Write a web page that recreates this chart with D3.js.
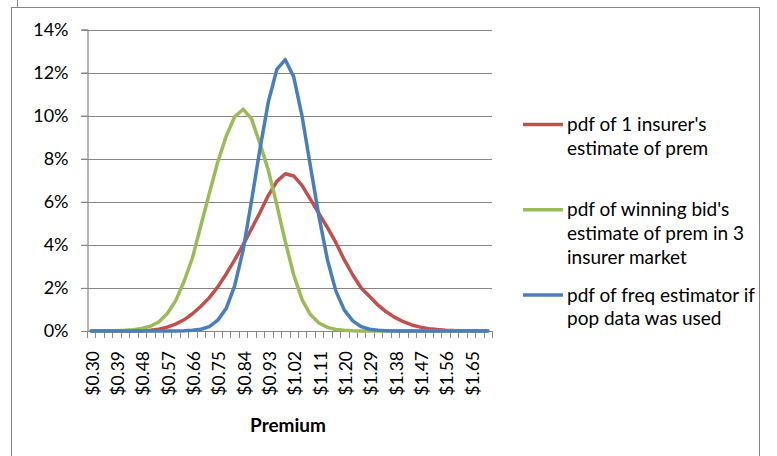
<!DOCTYPE html>
<html lang="en">
	<head>
		<meta charset="utf-8">
		<title>Premium pdf chart</title>
		<script src="https://d3js.org/d3.v7.min.js"></script>
		<style>
			body { margin: 0; background: #fff; }
			text { font-family: Lato, "Open Sans", sans-serif; fill: #000; }
		</style>
	</head>
	<body>
		<script>
		// categories (premium, $) -- every third one gets a label
		var premiums = [0.30, 0.33, 0.36, 0.39, 0.42, 0.45, 0.48, 0.51, 0.54, 0.57, 0.60, 0.63,
		                0.66, 0.69, 0.72, 0.75, 0.78, 0.81, 0.84, 0.87, 0.90, 0.93, 0.96, 0.99,
		                1.02, 1.05, 1.08, 1.11, 1.14, 1.17, 1.20, 1.23, 1.26, 1.29, 1.32, 1.35,
		                1.38, 1.41, 1.44, 1.47, 1.50, 1.53, 1.56, 1.59, 1.62, 1.65, 1.68, 1.71];

		// series values in percent
		var oneInsurer = [0, 0, 0, 0, 0, 0, 0.01, 0.03, 0.08, 0.18, 0.32, 0.52,
		                  0.8, 1.15, 1.55, 2.05, 2.65, 3.3, 4.0, 4.75, 5.5, 6.3, 6.95, 7.3,
		                  7.2, 6.75, 6.1, 5.45, 4.8, 4.1, 3.3, 2.6, 2.0, 1.6, 1.2, 0.88,
		                  0.63, 0.43, 0.28, 0.18, 0.11, 0.07, 0.04, 0.02, 0.01, 0, 0, 0];
		var winningBid = [0, 0, 0, 0.01, 0.03, 0.06, 0.12, 0.22, 0.42, 0.8, 1.4, 2.3,
		                  3.4, 4.9, 6.4, 7.85, 9.05, 9.95, 10.3, 9.85, 8.7, 7.45, 5.85, 4.15,
		                  2.6, 1.45, 0.75, 0.37, 0.17, 0.07, 0.03, 0.01, 0, 0, 0, 0,
		                  0, 0, 0, 0, 0, 0, 0, 0, 0, 0, 0, 0];
		var freqEstimator = [0, 0, 0, 0, 0, 0, 0, 0, 0, 0, 0, 0.01,
		                     0.03, 0.08, 0.2, 0.5, 1.05, 2.1, 3.75, 6.05, 8.45, 10.65, 12.15, 12.6,
		                     11.8, 9.95, 7.6, 5.3, 3.3, 1.85, 0.97, 0.47, 0.2, 0.08, 0.03, 0.01,
		                     0, 0, 0, 0, 0, 0, 0, 0, 0, 0, 0, 0];

		var yTicks = [0, 2, 4, 6, 8, 10, 12, 14];
		var legendLabels = [
			["pdf of 1 insurer's", "estimate of prem"],
			["pdf of winning bid's", "estimate of prem in 3", "insurer market"],
			["pdf of freq estimator if", "pop data was used"]
		];
		var seriesList = [oneInsurer, winningBid, freqEstimator];
		var colors = ["#C0504D", "#9BBB59", "#4A7EBB"];

		const width = 777;
		const height = 456;
		const gridColor = "#868686";

		var svg = d3.select("body").append("svg")
			.attr("width", width)
			.attr("height", height);

		// chart frame (runs off the bottom of the picture)
		svg.append("line").attr("x1", 17.5).attr("x2", 17.5).attr("y1", 0).attr("y2", 7.5)
			.attr("stroke", gridColor);
		svg.append("rect")
			.attr("x", 11.5).attr("y", 7.5)
			.attr("width", 748).attr("height", 470)
			.attr("fill", "#fff")
			.attr("stroke", gridColor);

		var xScale = d3.scaleBand().domain(d3.range(premiums.length)).range([87, 492]).padding(0);
		var yScale = d3.scaleLinear().domain([0, 14]).range([331, 29.5]);
		var half = xScale.bandwidth() / 2;

		// gridlines
		svg.append("g").selectAll("line")
			.data(yTicks.filter(function(d) { return d > 0; }))
			.enter().append("line")
			.attr("x1", 81).attr("x2", 492)
			.attr("y1", function(d) { return Math.round(yScale(d)) + 0.5; })
			.attr("y2", function(d) { return Math.round(yScale(d)) + 0.5; })
			.attr("stroke", gridColor)
			.attr("stroke-width", 1.2);

		// y axis
		var yAxis = d3.axisLeft(yScale).tickValues(yTicks).tickSize(6).tickPadding(13)
			.tickFormat(function(d) { return d + "%"; });
		var gy = svg.append("g").attr("transform", "translate(87.5,0)").call(yAxis);
		gy.select(".domain").attr("stroke", gridColor).attr("stroke-width", 1.2);
		gy.selectAll(".tick line").attr("stroke", gridColor).attr("stroke-width", 1.2);
		gy.selectAll(".tick text").style("font-size", "18px").attr("fill", "#000");

		// x axis: ticks sit between categories
		var bounds = d3.range(premiums.length + 1).map(function(i) { return 87 + i * xScale.bandwidth(); });
		svg.append("line").attr("x1", 87).attr("x2", 492).attr("y1", 331.5).attr("y2", 331.5)
			.attr("stroke", gridColor).attr("stroke-width", 1.2);
		svg.append("g").selectAll("line")
			.data(bounds)
			.enter().append("line")
			.attr("x1", function(d) { return Math.round(d) + 0.5; })
			.attr("x2", function(d) { return Math.round(d) + 0.5; })
			.attr("y1", 331).attr("y2", 338)
			.attr("stroke", gridColor).attr("stroke-width", 1);

		svg.append("g").selectAll("text")
			.data(premiums.map(function(p, i) { return i; }).filter(function(i) { return i % 3 === 0; }))
			.enter().append("text")
			.attr("transform", function(i) { return "translate(" + (xScale(i) + half + 1.5) + ",351) rotate(-90)"; })
			.attr("text-anchor", "end")
			.attr("dy", "0.35em")
			.style("font-size", "17.5px")
			.text(function(i) { return "$" + premiums[i].toFixed(2); });

		svg.append("text")
			.attr("x", 288).attr("y", 432)
			.attr("text-anchor", "middle")
			.style("font-size", "19px")
			.style("font-weight", "bold")
			.text("Premium");

		// series lines
		var line = d3.line()
			.x(function(d, i) { return xScale(i) + half; })
			.y(function(d) { return yScale(d); });

		svg.append("g").selectAll("path")
			.data(seriesList)
			.enter().append("path")
			.attr("d", line)
			.attr("fill", "none")
			.attr("stroke", function(d, i) { return colors[i]; })
			.attr("stroke-width", 3.5)
			.attr("stroke-linejoin", "round")
			.attr("stroke-linecap", "round");

		// legend
		var legend = svg.append("g").selectAll("g")
			.data(legendLabels)
			.enter().append("g")
			.attr("transform", function(d, i) { return "translate(0," + (131 + i * 85.3) + ")"; });

		legend.append("line")
			.attr("x1", 523).attr("x2", 563)
			.attr("y1", -6.5).attr("y2", -6.5)
			.attr("stroke", function(d, i) { return colors[i]; })
			.attr("stroke-width", 3.5);

		legend.selectAll("text")
			.data(function(d) { return d; })
			.enter().append("text")
			.attr("x", 567)
			.attr("y", function(d, j) { return j * 23.7; })
			.style("font-size", "19px")
			.text(function(d) { return d; });
		</script>
	</body>
</html>
